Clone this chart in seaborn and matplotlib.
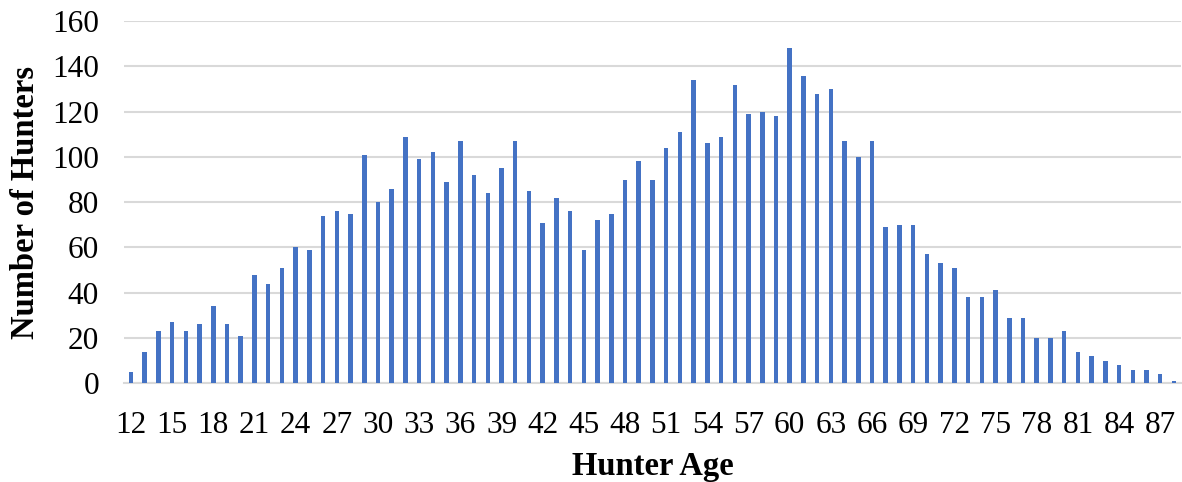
import matplotlib
matplotlib.use("Agg")
import matplotlib.pyplot as plt
import seaborn as sns
import pandas as pd

ages = list(range(12, 89))
hunters = [5, 14, 23, 27, 23, 26, 34, 26, 21, 48,
           44, 51, 60, 59, 74, 76, 75, 101, 80, 86,
           109, 99, 102, 89, 107, 92, 84, 95, 107, 85,
           71, 82, 76, 59, 72, 75, 90, 98, 90, 104,
           111, 134, 106, 109, 132, 119, 120, 118, 148, 136,
           128, 130, 107, 100, 107, 69, 70, 70, 57, 53,
           51, 38, 38, 41, 29, 29, 20, 20, 23, 14,
           12, 10, 8, 6, 6, 4, 1]
y_ticks = [0, 20, 40, 60, 80, 100, 120, 140, 160]
x_label = "Hunter Age"
y_label = "Number of Hunters"

df = pd.DataFrame({"age": [str(a) for a in ages], "n": hunters})

sns.set_style("white")
plt.rcParams["font.family"] = ["Liberation Serif", "DejaVu Serif"]
plt.rcParams["text.color"] = "black"
plt.rcParams["axes.labelcolor"] = "black"

fig, ax = plt.subplots(figsize=(11.82, 4.82), dpi=100)
fig.subplots_adjust(left=0.105, right=0.999, top=0.956, bottom=0.205)

sns.barplot(data=df, x="age", y="n", color="#4472C4", width=0.33,
            saturation=1, linewidth=0, ax=ax, zorder=3)

ax.set_ylim(0, 160)
ax.set_yticks(y_ticks)
ax.set_xlim(-0.5, len(ages) - 0.5)
idx = [i for i, a in enumerate(ages) if (a - 12) % 3 == 0]
ax.set_xticks(idx)
ax.set_xticklabels([str(ages[i]) for i in idx])

ax.grid(axis="y", color="#D9D9D9", linewidth=1.5, zorder=0)
ax.set_axisbelow(True)
for s in ["top", "right", "left"]:
    ax.spines[s].set_visible(False)
ax.spines["bottom"].set_color("#D9D9D9")
ax.spines["bottom"].set_linewidth(1.5)

ax.tick_params(axis="both", length=0, labelsize=22.5, colors="black")
ax.tick_params(axis="x", pad=20)
ax.tick_params(axis="y", pad=18)

ax.set_xlabel(x_label, fontsize=23.5, fontweight="bold", labelpad=8, color="black")
ax.set_ylabel(y_label, fontsize=23.5, fontweight="bold", labelpad=8, color="black")

fig.savefig("out.png", dpi=100)
